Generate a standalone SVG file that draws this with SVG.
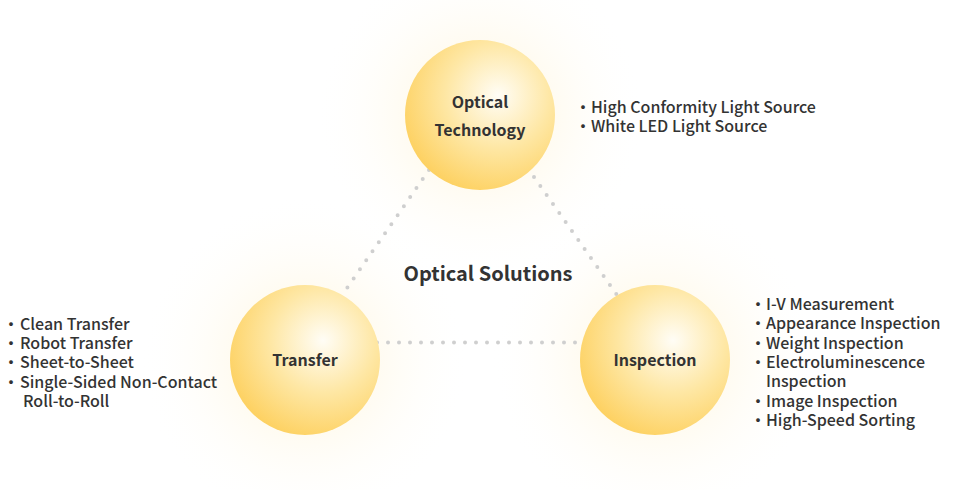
<svg xmlns="http://www.w3.org/2000/svg" width="960" height="490" viewBox="0 0 960 490">
  <defs>
    <radialGradient id="ball" cx="0.62" cy="0.37" fx="0.62" fy="0.37" r="0.78">
      <stop offset="0" stop-color="#fffdf6"/>
      <stop offset="0.45" stop-color="#fee7a4"/>
      <stop offset="1" stop-color="#fdca4c"/>
    </radialGradient>
    <radialGradient id="glow" cx="0.5" cy="0.5" r="0.5">
      <stop offset="0" stop-color="#fff1c8" stop-opacity="0.8"/>
      <stop offset="0.5" stop-color="#fff8e6" stop-opacity="0.45"/>
      <stop offset="1" stop-color="#ffffff" stop-opacity="0"/>
    </radialGradient>
    <style>
      .node-label { font-family: "Noto Sans CJK KR", "Noto Sans", sans-serif; font-size: 16px; font-weight: 700; fill: #333; text-anchor: middle; }
      .title { font-family: "Noto Sans CJK KR", "Noto Sans", sans-serif; font-size: 20px; font-weight: 700; fill: #333; text-anchor: middle; }
      .list { font-family: "Noto Sans CJK KR", "Noto Sans", sans-serif; font-size: 16px; font-weight: 500; fill: #333; }
      .dots { fill: none; stroke: #cfcfcf; stroke-width: 4; stroke-linecap: round; stroke-dasharray: 0 11; }
    </style>
  </defs>
  <rect width="960" height="490" fill="#ffffff"/>
  <g id="glows">
    <circle cx="480" cy="115" r="165" fill="url(#glow)"/>
    <circle cx="305" cy="360" r="165" fill="url(#glow)"/>
    <circle cx="655" cy="360" r="165" fill="url(#glow)"/>
  </g>
  <g id="connectors">
    <path class="dots" d="M429 170 L347 288"/>
    <path class="dots" d="M534 177 L617 295"/>
    <path class="dots" d="M377 342.5 L576 342.5"/>
  </g>
  <text class="title" x="488" y="281">Optical Solutions</text>
  <g id="node-optical-technology">
    <circle cx="480" cy="115" r="75" fill="url(#ball)"/>
    <text class="node-label" x="480" y="108">Optical</text>
    <text class="node-label" x="480" y="136">Technology</text>
    <text class="list" x="575" y="113">・<tspan x="591">High Conformity Light Source</tspan></text>
    <text class="list" x="575" y="132">・<tspan x="591">White LED Light Source</tspan></text>
  </g>
  <g id="node-transfer">
    <circle cx="305" cy="360" r="75" fill="url(#ball)"/>
    <text class="node-label" x="305" y="366">Transfer</text>
    <text class="list" x="3" y="330">・<tspan x="20">Clean Transfer</tspan></text>
    <text class="list" x="3" y="349">・<tspan x="20">Robot Transfer</tspan></text>
    <text class="list" x="3" y="368">・<tspan x="20">Sheet-to-Sheet</tspan></text>
    <text class="list" x="3" y="388">・<tspan x="20">Single-Sided Non-Contact</tspan></text>
    <text class="list" x="23" y="407">Roll-to-Roll</text>
  </g>
  <g id="node-inspection">
    <circle cx="655" cy="360" r="75" fill="url(#ball)"/>
    <text class="node-label" x="655" y="366">Inspection</text>
    <text class="list" x="750" y="310">・<tspan x="766">I-V Measurement</tspan></text>
    <text class="list" x="750" y="329">・<tspan x="766">Appearance Inspection</tspan></text>
    <text class="list" x="750" y="349">・<tspan x="766">Weight Inspection</tspan></text>
    <text class="list" x="750" y="368">・<tspan x="766">Electroluminescence</tspan></text>
    <text class="list" x="766" y="387">Inspection</text>
    <text class="list" x="750" y="407">・<tspan x="766">Image Inspection</tspan></text>
    <text class="list" x="750" y="426">・<tspan x="766">High-Speed Sorting</tspan></text>
  </g>
</svg>
